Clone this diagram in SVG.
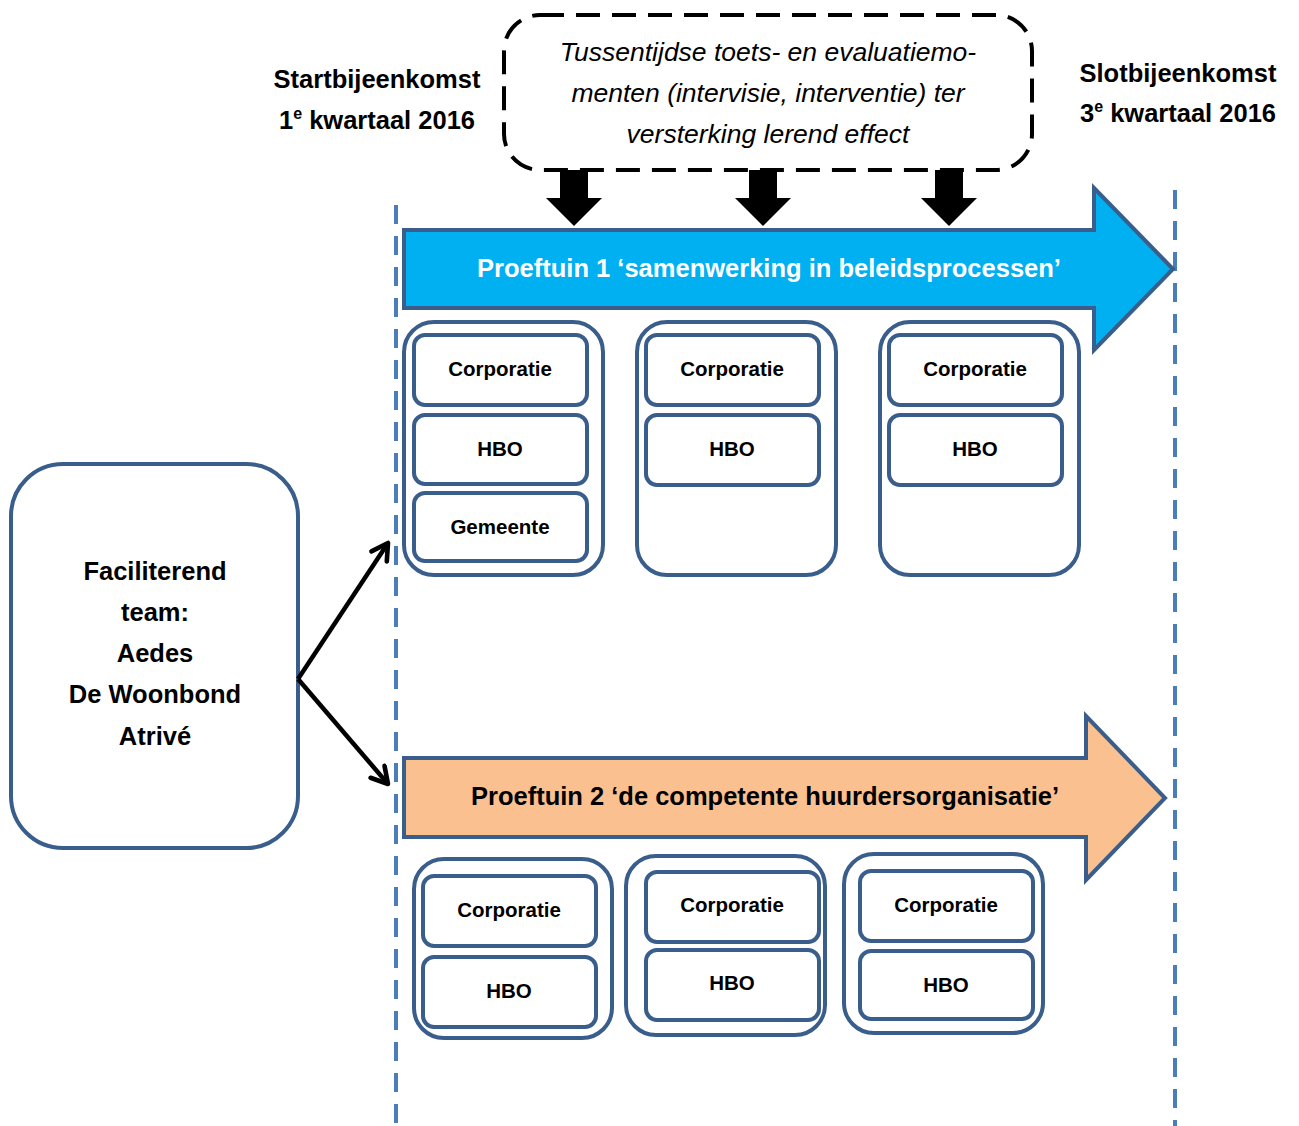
<svg xmlns="http://www.w3.org/2000/svg" width="1299" height="1126" viewBox="0 0 1299 1126">
<style>
text{font-family:"Liberation Sans",Arial,sans-serif;font-weight:bold;fill:#000;text-anchor:middle}
.title{font-size:25.5px}
.lab{font-size:20.5px}
.ital{font-style:italic;font-weight:normal;font-size:26.5px}
.outer{fill:#fff;stroke:#3A5E8C;stroke-width:4}
.inner{fill:#fff;stroke:#3A5E8C;stroke-width:4}
.guide{stroke:#4A7EBB;stroke-width:4;stroke-dasharray:19 12;fill:none}
.conn{stroke:#000;stroke-width:4.5;fill:none;marker-end:url(#open)}
.down{fill:#000}
</style>
<defs>
<marker id="open" viewBox="0 0 20 20" refX="17" refY="10" markerWidth="23" markerHeight="23" markerUnits="userSpaceOnUse" orient="auto">
<path d="M3,2 L17,10 L3,18" fill="none" stroke="#000" stroke-width="4" stroke-linecap="round" stroke-linejoin="round"/>
</marker>
</defs>
<rect width="1299" height="1126" fill="#fff"/>

<g id="guides">
<line class="guide" x1="396" y1="205" x2="396" y2="1126"/>
<line class="guide" x1="1175" y1="190" x2="1175" y2="1126"/>
</g>

<g id="start-label">
<text class="title" x="377" y="88">Startbijeenkomst</text>
<text class="title" x="377" y="129">1<tspan dy="-10" font-size="16">e</tspan><tspan dy="10"> kwartaal 2016</tspan></text>
</g>
<g id="end-label">
<text class="title" x="1178" y="82">Slotbijeenkomst</text>
<text class="title" x="1178" y="122">3<tspan dy="-10" font-size="16">e</tspan><tspan dy="10"> kwartaal 2016</tspan></text>
</g>

<g id="evaluation">
<rect x="504" y="15" width="528" height="155" rx="36" fill="#fff" stroke="#000" stroke-width="4" stroke-dasharray="24 12"/>
<text class="ital" x="768" y="61">Tussentijdse toets- en evaluatiemo-</text>
<text class="ital" x="768" y="102">menten (intervisie, interventie) ter</text>
<text class="ital" x="768" y="143">versterking lerend effect</text>
</g>

<g id="down-arrows">
<polygon class="down" points="560,170 588,170 588,198 602,198 574,226 546,198 560,198"/>
<polygon class="down" points="749,170 777,170 777,198 791,198 763,226 735,198 749,198"/>
<polygon class="down" points="935,170 963,170 963,198 977,198 949,226 921,198 935,198"/>
</g>

<g id="proeftuin1">
<polygon points="404,230 1094,230 1094,188 1173,269 1094,350 1094,308 404,308" fill="#00B0F0" stroke="#3A5E8C" stroke-width="4"/>
<text class="title" x="769" y="277" style="fill:#fff">Proeftuin 1 ‘samenwerking in beleidsprocessen’</text>
</g>

<g id="p1-group1">
<rect class="outer" x="404" y="322" width="199" height="253" rx="30"/>
<rect class="inner" x="414" y="335" width="173" height="70" rx="11"/>
<text class="lab" x="500" y="376">Corporatie</text>
<rect class="inner" x="414" y="415" width="173" height="69" rx="11"/>
<text class="lab" x="500" y="456">HBO</text>
<rect class="inner" x="414" y="493" width="173" height="68" rx="11"/>
<text class="lab" x="500" y="534">Gemeente</text>
</g>
<g id="p1-group2">
<rect class="outer" x="637" y="322" width="199" height="253" rx="30"/>
<rect class="inner" x="646" y="335" width="173" height="70" rx="11"/>
<text class="lab" x="732" y="376">Corporatie</text>
<rect class="inner" x="646" y="415" width="173" height="70" rx="11"/>
<text class="lab" x="732" y="456">HBO</text>
</g>
<g id="p1-group3">
<rect class="outer" x="880" y="322" width="199" height="253" rx="30"/>
<rect class="inner" x="889" y="335" width="173" height="70" rx="11"/>
<text class="lab" x="975" y="376">Corporatie</text>
<rect class="inner" x="889" y="415" width="173" height="70" rx="11"/>
<text class="lab" x="975" y="456">HBO</text>
</g>

<g id="proeftuin2">
<polygon points="404,758 1086,758 1086,716 1165,798 1086,880 1086,837 404,837" fill="#FAC090" stroke="#3A5E8C" stroke-width="4"/>
<text class="title" x="765" y="805">Proeftuin 2 ‘de competente huurdersorganisatie’</text>
</g>

<g id="p2-group1">
<rect class="outer" x="414" y="859" width="198" height="179" rx="30"/>
<rect class="inner" x="423" y="876" width="173" height="70" rx="11"/>
<text class="lab" x="509" y="917">Corporatie</text>
<rect class="inner" x="423" y="957" width="173" height="70" rx="11"/>
<text class="lab" x="509" y="998">HBO</text>
</g>
<g id="p2-group2">
<rect class="outer" x="626" y="856" width="199" height="179" rx="30"/>
<rect class="inner" x="646" y="872" width="173" height="70" rx="11"/>
<text class="lab" x="732" y="912">Corporatie</text>
<rect class="inner" x="646" y="950" width="173" height="70" rx="11"/>
<text class="lab" x="732" y="990">HBO</text>
</g>
<g id="p2-group3">
<rect class="outer" x="844" y="854" width="199" height="179" rx="30"/>
<rect class="inner" x="860" y="871" width="173" height="70" rx="11"/>
<text class="lab" x="946" y="912">Corporatie</text>
<rect class="inner" x="860" y="951" width="173" height="68" rx="11"/>
<text class="lab" x="946" y="992">HBO</text>
</g>

<g id="team">
<rect x="11" y="464" width="287" height="384" rx="52" fill="#fff" stroke="#3A5E8C" stroke-width="4"/>
<text class="title" x="155" y="580">Faciliterend</text>
<text class="title" x="155" y="621">team:</text>
<text class="title" x="155" y="662">Aedes</text>
<text class="title" x="155" y="703">De Woonbond</text>
<text class="title" x="155" y="745">Atrivé</text>
</g>

<g id="connectors">
<line class="conn" x1="298" y1="679" x2="388" y2="543"/>
<line class="conn" x1="298" y1="679" x2="388" y2="784"/>
</g>
</svg>
